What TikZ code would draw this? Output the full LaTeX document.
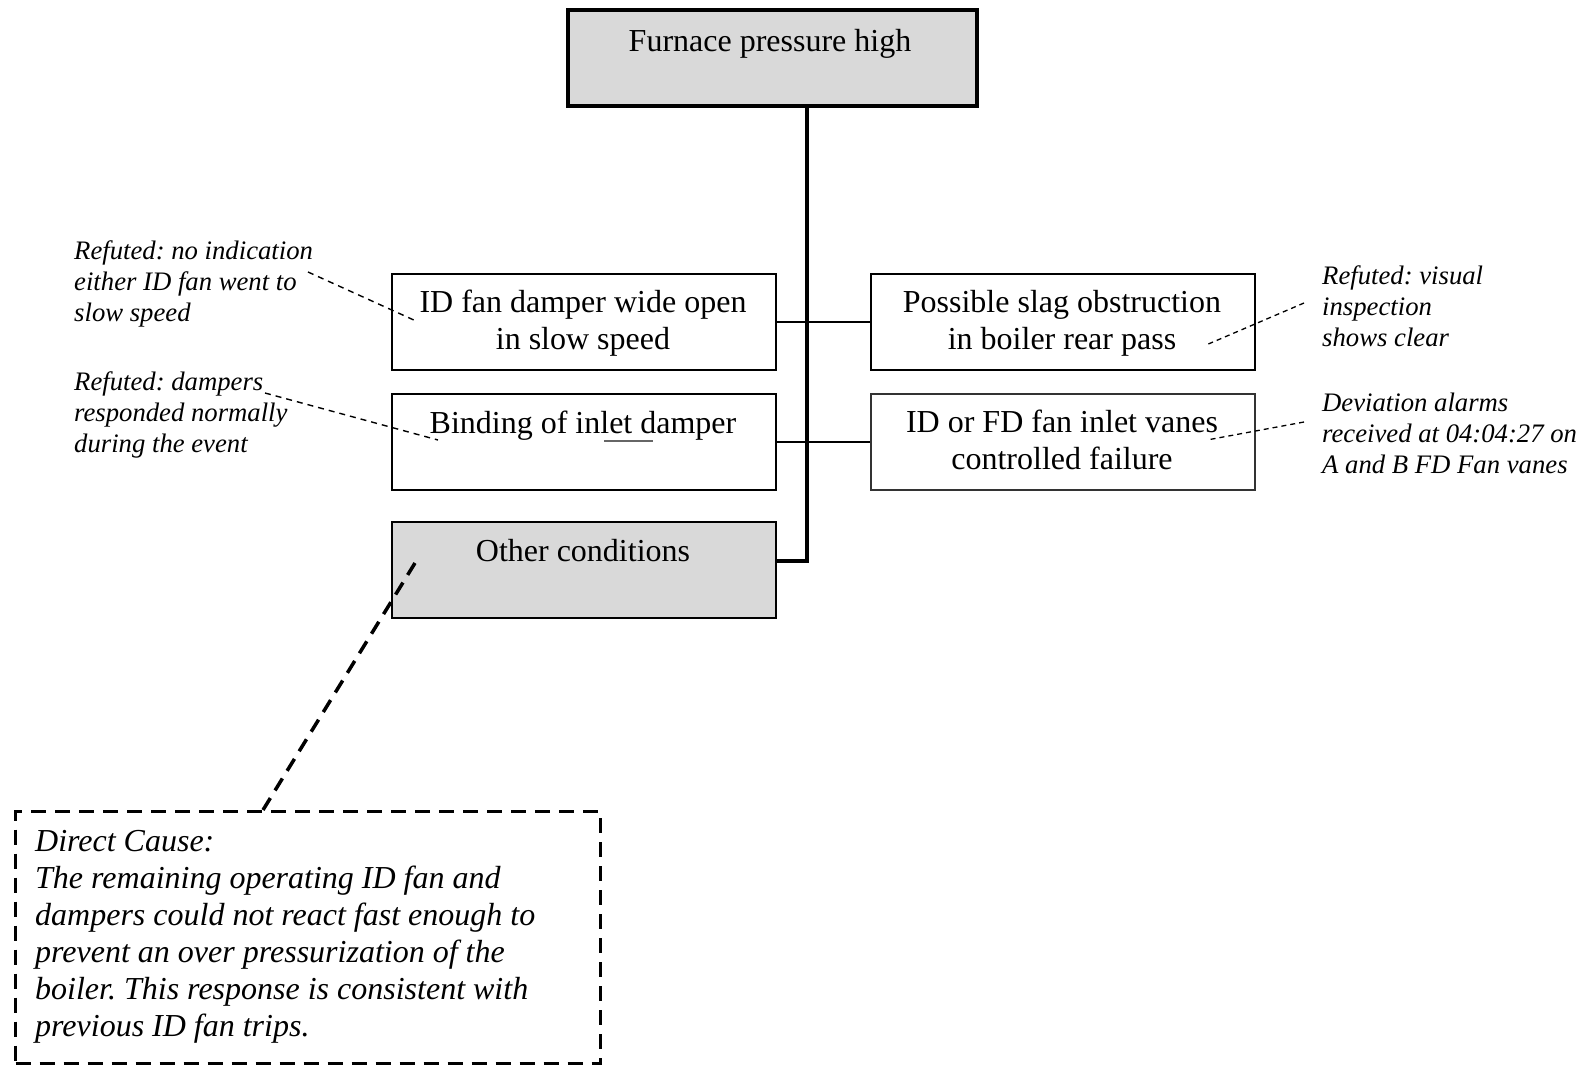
\documentclass[tikz,border=0pt]{standalone}
\usepackage{fontspec}
\setmainfont{Liberation Serif}
\frenchspacing
\begin{document}
\begin{tikzpicture}[x=1pt,y=-1pt,
  box/.style={draw, line width=1.8pt, minimum width=384pt, minimum height=96pt,
    anchor=north west, inner sep=0pt},
  graybox/.style={box, fill=boxgray},
  boxtxt/.style={font=\fontsize{32}{37}\selectfont, inner sep=0pt, anchor=base},
  notetxt/.style={font=\fontsize{26.7}{31}\selectfont\itshape, align=left,
    inner sep=0pt, anchor=north west},
  leader/.style={line width=1.4pt, dash pattern=on 6pt off 5pt},
  leaderR/.style={line width=1.3pt, dash pattern=on 5pt off 4pt},
  branch/.style={line width=1.8pt},
  trunk/.style={line width=4.8pt},
  bigdash/.style={line width=3.2pt, dash pattern=on 15pt off 9pt}]
\definecolor{boxgray}{HTML}{D9D9D9}
\useasboundingbox (0,0) rectangle (1585,1065);

% top event
\node[graybox, line width=4.2pt, minimum width=409pt, minimum height=96pt] (top) at (566,8) {};
\node[boxtxt] (topt) at (770,52) {Furnace pressure high};

% left column
\node[box] (b1) at (391,273) {};
\node[boxtxt] (b1a) at (583,312) {ID fan damper wide open};
\node[boxtxt] (b1b) at (583,349) {in slow speed};

\node[box] (b2) at (391,393) {};
\node[boxtxt] (b2t) at (583,433) {Binding of inlet damper};
\draw[line width=1.8pt, draw=black!60] (604,441) -- (653,441);

\node[graybox] (oc) at (391,521) {};
\node[boxtxt] (oct) at (583,561) {Other conditions};

% right column
\node[box] (r1) at (870,273) {};
\node[boxtxt] (r1a) at (1062,312) {Possible slag obstruction};
\node[boxtxt] (r1b) at (1062,349) {in boiler rear pass};

\node[box, draw=black!80] (r2) at (870,393) {};
\node[boxtxt] (r2a) at (1062,432) {ID or FD fan inlet vanes};
\node[boxtxt] (r2b) at (1062,469) {controlled failure};

% branches and trunk
\draw[branch] (b1.east) -- (r1.west);
\draw[branch] (b2.east) -- (r2.west);
\coordinate (tk) at (807,561);
\draw[trunk] (top.south -| tk) -- (tk) -- (tk -| oc.east);

% notes
\node[notetxt] (n1) at (74,240) {Refuted: no indication\\either ID fan went to\\slow speed};
\node[notetxt] (n2) at (74,371) {Refuted: dampers\\responded normally\\during the event};
\node[notetxt] (n3) at (1322,265) {Refuted: visual\\inspection\\shows clear};
\node[notetxt] (n4) at (1322,393) {Deviation alarms\\received at 04:04:27 on\\A and B FD Fan vanes};

\coordinate (n1p) at (308,272);  \coordinate (b1p) at (416,321);
\coordinate (n2p) at (265,393);  \coordinate (b2p) at (438,440);
\coordinate (n3p) at (1304,303); \coordinate (r1p) at (1206,345);
\coordinate (n4p) at (1304,422); \coordinate (r2p) at (1207,440);
\draw[leader] (n1p) -- (b1p);
\draw[leader] (n2p) -- (b2p);
\draw[leaderR] (n3p) -- (r1p);
\draw[leaderR] (n4p) -- (r2p);

% direct cause
\node[draw, bigdash, minimum width=585pt, minimum height=252pt, anchor=north west,
  inner sep=0pt] (dc) at (14,810) {};
\node[notetxt, font=\fontsize{32}{37}\selectfont\itshape] (dct) at (35,830)
  {Direct Cause:\\The remaining operating ID fan and\\dampers could not react fast enough to\\prevent an over pressurization of the\\boiler. This response is consistent with\\previous ID fan trips.};
\coordinate (ocp) at (415,563);
\draw[bigdash, line width=3.5pt, dash pattern=on 14pt off 9pt] (ocp) -- (dc.north -| 263,0);
\end{tikzpicture}
\end{document}
